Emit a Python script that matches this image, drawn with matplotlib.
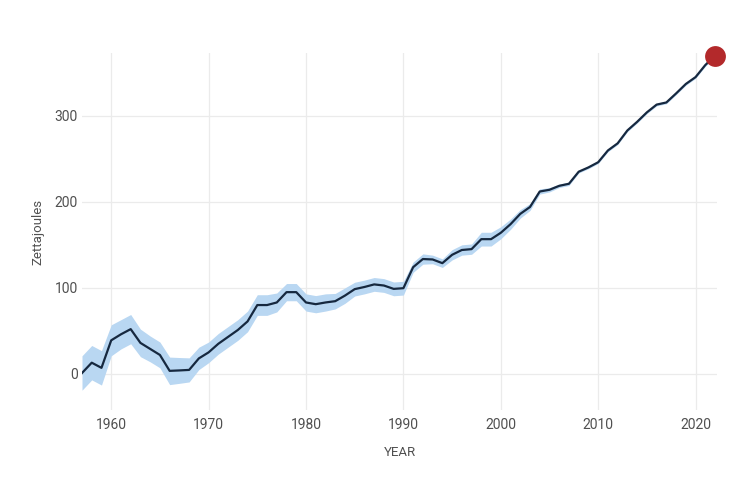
import matplotlib
matplotlib.use("Agg")
import matplotlib.pyplot as plt
import numpy as np

years = list(range(1957, 2023))
heat = [1, 13, 7, 39, 46, 52, 36, 29, 22, 3.5, 4, 4.6, 18, 25, 35, 43, 51,
        61, 80, 80, 83, 95, 95, 83, 81, 83, 84.5, 91, 98.5, 101, 104, 102.7, 98.8, 99.6,
        124, 133.5, 133, 128.7, 138.4, 144, 145, 156.6, 156.6, 164,
        174, 186, 194, 212, 214, 218.6, 221, 235, 240, 246, 259.7, 268, 283, 293, 304, 313,
        315.5, 326, 337, 345, 359, 370]
uncert = [20, 20, 20, 18, 17, 17, 16, 15, 15, 16, 15, 14, 13, 12, 12, 12, 12,
          12, 12, 12, 11, 10, 10, 10, 10, 10, 9, 9, 8, 8, 8, 8, 8, 8,
          6, 6, 5, 5, 6, 6, 6, 8, 8, 7,
          6, 5, 4, 3, 2.5, 2, 2, 1.5, 1.5, 1.5, 1.5, 1.5, 1.5, 1.5, 1.5, 1.5,
          1.5, 1.5, 1.5, 1.5, 1.5, 1.5]

x_ticks = [1960, 1970, 1980, 1990, 2000, 2010, 2020]
y_ticks = [0, 100, 200, 300]

plt.rcParams['font.family'] = ['Roboto', 'DejaVu Sans']

fig = plt.figure(figsize=(7.54, 4.82), dpi=100)
ax = fig.add_axes([82/754, 1 - 410/482, (717-82)/754, (410-53)/482])

yr = np.array(years, dtype=float)
h = np.array(heat)
u = np.array(uncert)

ax.fill_between(yr, h - u, h + u, color='#b9d7f2', linewidth=0, zorder=2)
ax.plot(yr, h, color='#16283f', linewidth=1.6, zorder=3)
ax.plot([yr[-1]], [h[-1]], 'o', color='#b3292b', markersize=15, zorder=4,
        markeredgewidth=0, clip_on=False)

ax.set_xlim(1957, 2022.2)
ax.set_ylim(-42, 373)
ax.set_xticks(x_ticks)
ax.set_yticks(y_ticks)
ax.grid(True, color='#ebebeb', linewidth=0.9, zorder=0)
for s in ax.spines.values():
    s.set_visible(False)
ax.tick_params(axis='both', length=0, colors='#505050', labelsize=10)
ax.tick_params(axis='x', pad=6)
ax.tick_params(axis='y', pad=3)
ax.set_xlabel('YEAR', color='#505050', fontsize=9.5, labelpad=10)
ax.set_ylabel('Zettajoules', color='#505050', fontsize=9.5, labelpad=7)

fig.savefig('out.png', dpi=100, facecolor='white')
